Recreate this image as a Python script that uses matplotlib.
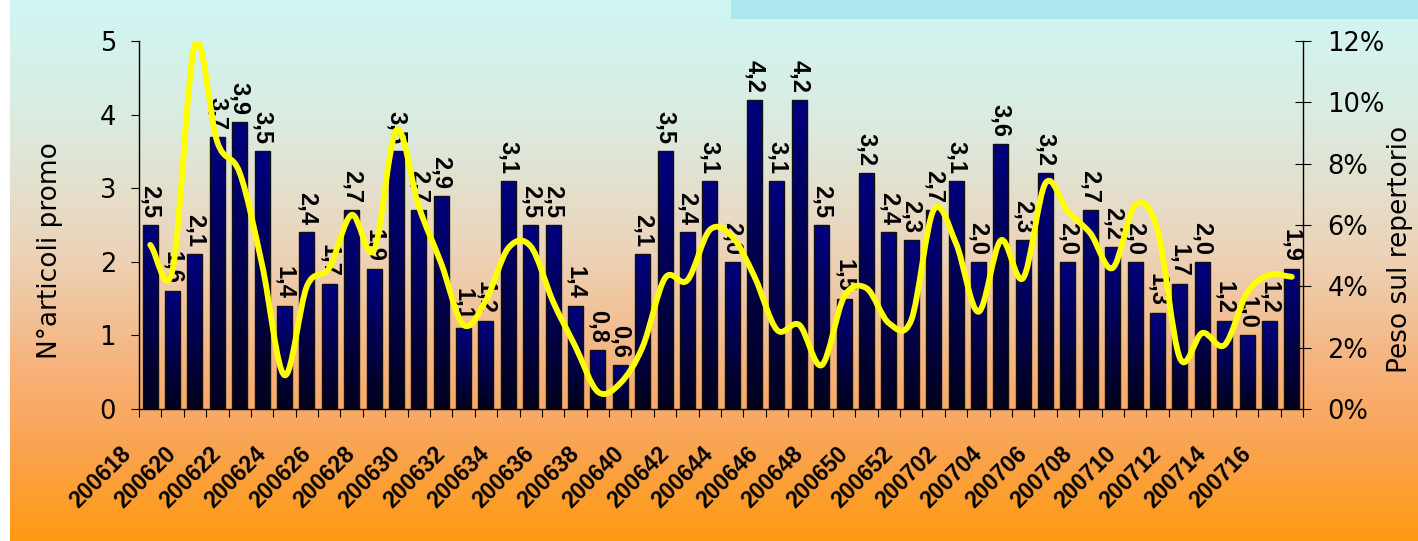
import numpy as np
import matplotlib
matplotlib.use("Agg")
import matplotlib.pyplot as plt
from matplotlib.path import Path
from matplotlib.patches import PathPatch, Rectangle
from matplotlib.colors import LinearSegmentedColormap
from matplotlib.transforms import ScaledTranslation
from matplotlib.ticker import FuncFormatter, FixedLocator

# ---------------- data ----------------
settimane = ["200618", "200619", "200620", "200621", "200622", "200623", "200624", "200625",
             "200626", "200627", "200628", "200629", "200630", "200631", "200632", "200633",
             "200634", "200635", "200636", "200637", "200638", "200639", "200640", "200641",
             "200642", "200643", "200644", "200645", "200646", "200647", "200648", "200649",
             "200650", "200651", "200652", "200701", "200702", "200703", "200704", "200705",
             "200706", "200707", "200708", "200709", "200710", "200711", "200712", "200713",
             "200714", "200715", "200716", "200717"]

articoli_promo = [2.5, 1.6, 2.1, 3.7, 3.9, 3.5, 1.4, 2.4, 1.7, 2.7, 1.9, 3.5, 2.7, 2.9,
                  1.1, 1.2, 3.1, 2.5, 2.5, 1.4, 0.8, 0.6, 2.1, 3.5, 2.4, 3.1, 2.0, 4.2,
                  3.1, 4.2, 2.5, 1.5, 3.2, 2.4, 2.3, 2.7, 3.1, 2.0, 3.6, 2.3, 3.2, 2.0,
                  2.7, 2.2, 2.0, 1.3, 1.7, 2.0, 1.2, 1.0, 1.2, 1.9]

peso_repertorio = [5.35, 4.55, 11.9, 8.7, 7.7, 4.7, 1.1, 4.0, 4.6, 6.33, 5.18, 9.1, 6.6,
                   4.75, 2.74, 3.55, 5.25, 5.3, 3.5, 2.03, 0.56, 0.84, 2.03, 4.27, 4.2,
                   5.84, 5.62, 4.31, 2.58, 2.74, 1.43, 3.66, 3.94, 2.8, 2.9, 6.49, 5.4,
                   3.17, 5.5, 4.27, 7.37, 6.43, 5.73, 4.6, 6.65, 5.84, 1.66, 2.48, 2.09,
                   3.78, 4.37, 4.31]

left_ticks = [0, 1, 2, 3, 4, 5]
right_ticks = [0, 2, 4, 6, 8, 10, 12]

# ---------------- figure ----------------
W, H, DPI = 1418, 541, 100
fig = plt.figure(figsize=(W / DPI, H / DPI), dpi=DPI)

# background gradient
bg = fig.add_axes([0, 0, 1, 1], zorder=-10)
bg.set_axis_off()
stops_y = [0.0, 0.24, 0.46, 0.70, 0.82, 1.0]
stops_c = [(207, 247, 244), (220, 234, 222), (236, 212, 186), (247, 176, 118),
           (250, 164, 84), (255, 154, 16)]
yy = np.linspace(0, 1, 541)
grad = np.zeros((541, 1, 3))
for k in range(3):
    grad[:, 0, k] = np.interp(yy, stops_y, [c[k] / 255 for c in stops_c])
bg.imshow(grad, aspect="auto", extent=[0, 1, 1, 0], origin="upper")
bg.set_xlim(0, 1)
bg.set_ylim(1, 0)
bg.add_patch(Rectangle((0, 0), 10 / W, 1, color="white", lw=0))
bg.add_patch(Rectangle((731 / W, 0), 1 - 731 / W, 19 / H, color="#aee8ee", lw=0))

L, R, T, B = 139, 1303, 41, 409
ax = fig.add_axes([L / W, 1 - B / H, (R - L) / W, (B - T) / H])
ax.patch.set_alpha(0)

x = np.arange(len(settimane))
bars = ax.bar(x, articoli_promo, width=0.67, facecolor="none", edgecolor="#111111",
              linewidth=1.0, zorder=3)
cmap = LinearSegmentedColormap.from_list("barre", ["#00001c", "#000080"])
g = np.linspace(1, 0, 256).reshape(-1, 1)
for b in bars:
    im = ax.imshow(g, cmap=cmap, vmin=0, vmax=1, aspect="auto", origin="upper",
                   extent=[b.get_x(), b.get_x() + b.get_width(), 0, b.get_height()],
                   zorder=2)
    im.set_clip_path(b)

ax.set_xlim(-0.5, len(settimane) - 0.5)
ax.set_ylim(0, 5)
ax.set_aspect("auto")

# bar value labels
lab_off = ScaledTranslation(0, 7 / DPI, fig.dpi_scale_trans)
for xi, v in zip(x, articoli_promo):
    ax.text(xi, v, f"{v:.1f}".replace(".", ","), rotation=270, ha="center", va="bottom",
            fontsize=17, fontweight="bold", family="Liberation Sans", color="black",
            transform=ax.transData + lab_off, zorder=4)

# axes styling
for s in ["top", "right"]:
    ax.spines[s].set_visible(False)
ax.spines["left"].set_linewidth(1)
ax.spines["bottom"].set_linewidth(1)

ax.yaxis.set_major_locator(FixedLocator(left_ticks))
ax.tick_params(axis="y", direction="out", length=6, width=0.8, pad=10.5,
               labelsize=18.5, colors="black")
for t in ax.get_yticklabels():
    t.set_family("DejaVu Sans")

ax.set_xticks(x[::2])
ax.set_xticklabels(settimane[::2])
ax.set_xticks(np.arange(-0.5, len(settimane), 1.0), minor=True)
ax.tick_params(axis="x", which="major", length=0, pad=24)
ax.tick_params(axis="x", which="minor", direction="out", length=6, width=0.8)
xoff = ScaledTranslation(-14 / DPI, 0, fig.dpi_scale_trans)
for t in ax.get_xticklabels():
    t.set_rotation(45)
    t.set_ha("right")
    t.set_va("top")
    t.set_fontsize(16.5)
    t.set_fontweight("bold")
    t.set_family("Liberation Sans")
    t.set_transform(t.get_transform() + xoff)

ax.set_ylabel("N°articoli promo", fontsize=19, family="DejaVu Sans")
ax.yaxis.set_label_coords(-0.0653, 0.43)

# secondary axis with smoothed line
ax2 = ax.twinx()
ax2.patch.set_alpha(0)
ax2.set_ylim(0, 12)
for s in ["top", "left", "bottom"]:
    ax2.spines[s].set_visible(False)
ax2.spines["right"].set_linewidth(1)
ax2.yaxis.set_major_locator(FixedLocator(right_ticks))
ax2.yaxis.set_major_formatter(FuncFormatter(lambda v, p: f"{v:.0f}%"))
ax2.tick_params(axis="y", direction="inout", length=12, width=0.8, pad=11.5,
                labelsize=18.5, colors="black")
ax2.set_ylabel("Peso sul repertorio", fontsize=19, family="DejaVu Sans")
ax2.yaxis.set_label_coords(1.0722, 0.435)

px = np.asarray(x, dtype=float)
py = np.asarray(peso_repertorio, dtype=float)
n = len(px)
dx = np.empty(n)
dy = np.empty(n)
dx[1:-1] = (px[2:] - px[:-2]) / 2
dy[1:-1] = (py[2:] - py[:-2]) / 2
dx[0], dy[0] = px[1] - px[0], py[1] - py[0]
dx[-1], dy[-1] = px[-1] - px[-2], py[-1] - py[-2]
verts = [(px[0], py[0])]
codes = [Path.MOVETO]
for i in range(n - 1):
    verts += [(px[i] + dx[i] / 3, py[i] + dy[i] / 3),
              (px[i + 1] - dx[i + 1] / 3, py[i + 1] - dy[i + 1] / 3),
              (px[i + 1], py[i + 1])]
    codes += [Path.CURVE4] * 3
ax2.add_patch(PathPatch(Path(verts, codes), facecolor="none", edgecolor="#ffff00",
                        linewidth=4.2, capstyle="round", joinstyle="round", zorder=5))

fig.savefig("out.png", dpi=DPI)
